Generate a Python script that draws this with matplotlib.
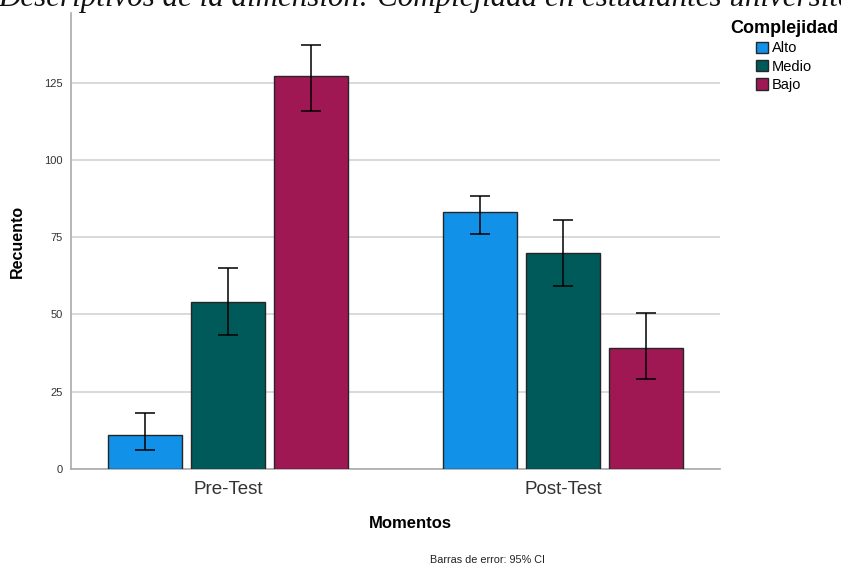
import numpy as np
import matplotlib.pyplot as plt

# datos
momentos = ['Pre-Test', 'Post-Test']
niveles = ['Alto', 'Medio', 'Bajo']
recuento = {'Alto': [11, 83], 'Medio': [54, 70], 'Bajo': [127, 39]}
ic_inf = {'Alto': [6, 76], 'Medio': [43.5, 59.2], 'Bajo': [115.8, 29.1]}
ic_sup = {'Alto': [18.1, 88.3], 'Medio': [65, 80.6], 'Bajo': [137, 50.3]}
colores = {'Alto': '#1192e8', 'Medio': '#005a5a', 'Bajo': '#9f1853'}

plt.rcParams['font.family'] = ['Liberation Sans', 'DejaVu Sans']

fig = plt.figure(figsize=(8.41, 5.69), dpi=100)
ax = fig.add_axes([71/841, 1 - 469/569, (720-71)/841, (469-13)/569])

x = np.arange(len(momentos))
w = 0.221
gap = 0.027
for i, nv in enumerate(niveles):
    pos = x + (i - 1) * (w + gap)
    vals = np.array(recuento[nv])
    lo = vals - np.array(ic_inf[nv])
    hi = np.array(ic_sup[nv]) - vals
    ax.bar(pos, vals, width=w, color=colores[nv], edgecolor='#262626',
           linewidth=1, label=nv, zorder=3)
    ax.errorbar(pos, vals, yerr=[lo, hi], fmt='none', ecolor='black',
                elinewidth=1.1, capsize=7, capthick=1.1, zorder=4)

ax.set_xlim(-0.469, 1.468)
ax.set_ylim(0, 147.5)
ax.set_yticks([0, 25, 50, 75, 100, 125])
ax.set_xticks(x)
ax.set_xticklabels(momentos, fontsize=13.5, color='#333333')
ax.tick_params(axis='y', labelsize=8, length=0, pad=6, labelcolor='#333333')
ax.tick_params(axis='x', length=0, pad=9)
ax.yaxis.grid(True, color='#d3d3d3', linewidth=1.2, zorder=0)
ax.set_axisbelow(True)
for s in ['top', 'right']:
    ax.spines[s].set_visible(False)
for s in ['left', 'bottom']:
    ax.spines[s].set_color('#aaaaaa')
    ax.spines[s].set_linewidth(1.2)

ax.set_ylabel('Recuento', fontsize=11.5, fontweight='bold', labelpad=14)
ax.set_xlabel('Momentos', fontsize=12, fontweight='bold')
ax.xaxis.set_label_coords((410 - 71) / 649, -(523 - 469) / 456)
ax.xaxis.label.set_va('center')

leg = fig.legend(title='Complejidad', loc='upper center',
                 bbox_to_anchor=(784/841, 1 - 20/569),
                 frameon=False, fontsize=10.5, handlelength=0.8, handleheight=0.8,
                 handletextpad=0.25, labelspacing=0.3, borderaxespad=0, borderpad=0)
leg.get_title().set_fontweight('bold')
leg.get_title().set_fontsize(13)

fig.text(488/841, 1 - 560/569, 'Barras de error: 95% CI', fontsize=7.8,
         ha='center', va='center', color='#222222')

fig.text(-2/841, 1 - 6/569,
         'Descriptivos de la dimensión: Complejidad en estudiantes universitarios',
         fontsize=22.3, family='Liberation Serif', style='italic',
         ha='left', va='baseline', color='#111111')

fig.savefig('out.png', dpi=100)
